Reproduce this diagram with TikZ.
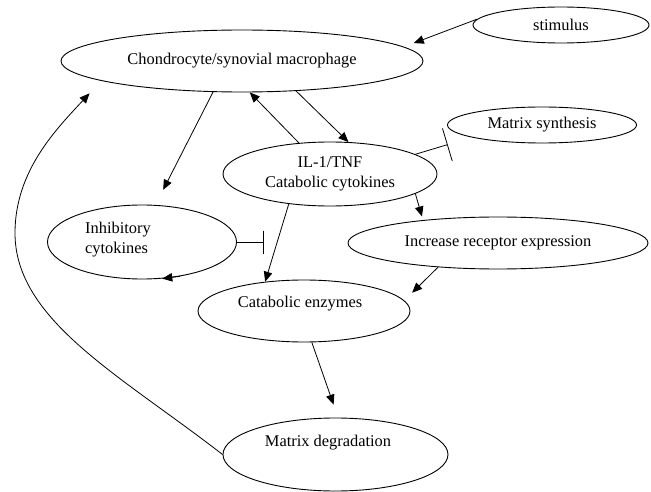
\documentclass[tikz,border=0pt]{standalone}
\usepackage{fontspec}
\setmainfont{Liberation Serif}
\usetikzlibrary{shapes.geometric,arrows.meta,calc}
\begin{document}
\begin{tikzpicture}[x=1pt,y=-1pt,
  every node/.style={font=\fontsize{16.4}{20}\selectfont},
  ell/.style={draw, ellipse, inner sep=0pt, line width=0.9pt},
  lbl/.style={inner sep=0pt},
  arr/.style={-{Triangle[length=10pt,width=8.5pt]}, line width=0.8pt},
  inhib/.style={-{Bar[width=#1]}, line width=0.8pt},
]
\useasboundingbox (0,0) rectangle (651,492);

\node[ell, minimum width=176pt, minimum height=36pt] (stim) at (561,25) {stimulus};
\node[ell, minimum width=362pt, minimum height=62pt] (chon) at (242,61) {Chondrocyte/synovial macrophage};
\node[ell, minimum width=189pt, minimum height=36pt] (ms) at (542,125) {Matrix synthesis};
\node[ell, minimum width=214pt, minimum height=64pt, align=center] (il) at (330,174) {IL-1/TNF\\Catabolic cytokines};
\node[ell, minimum width=189pt, minimum height=74pt] (inh) at (142,242) {};
\node[lbl, anchor=west, align=left] (inhtext) at (85,240) {Inhibitory\\cytokines};
\node[ell, minimum width=300pt, minimum height=52pt] (rec) at (498,243) {Increase receptor expression};
\node[ell, minimum width=212pt, minimum height=62pt] (cat) at (304,311) {};
\node[lbl] (cattext) at (300,304) {Catabolic enzymes};
\node[ell, minimum width=225pt, minimum height=73pt] (md) at (335.5,454.5) {};
\node[lbl] (mdtext) at (328,443) {Matrix degradation};

\draw[arr, shorten >=10.5pt] (stim.176) -- (chon.5);
\draw[arr, shorten >=17pt] (chon.-133) -- (inh.70);
\draw[arr] (il.135) -- (chon.-76);
\draw[arr] (chon.-29) -- (il.60);
\draw[inhib=34pt, shorten >=25pt] (il.13.5) -- (ms.-170);
\draw[arr, shorten >=3.7pt] (il.-13) -- (rec.163);
\draw[arr] (il.-144) -- (cat.143);
\coordinate (m) at ($(il.-144)!0.49!(cat.143)$);
\draw[inhib=23pt, shorten >=13pt] (inh.east) -- (inh.east -| m);
\draw[arr] (inh.-42) -- (inh.-61);
\draw[arr, shorten >=11pt] (rec.-158) -- (cat.6);
\draw[arr, shorten >=13.7pt] (cat.-76) -- (md.86);
\draw[arr, shorten >=17pt] (md.west) .. controls (120,375) and (15,320) .. (15,233)
  .. controls (15,170) and (57.7,127.8) .. (chon.-172.5);
\end{tikzpicture}
\end{document}
